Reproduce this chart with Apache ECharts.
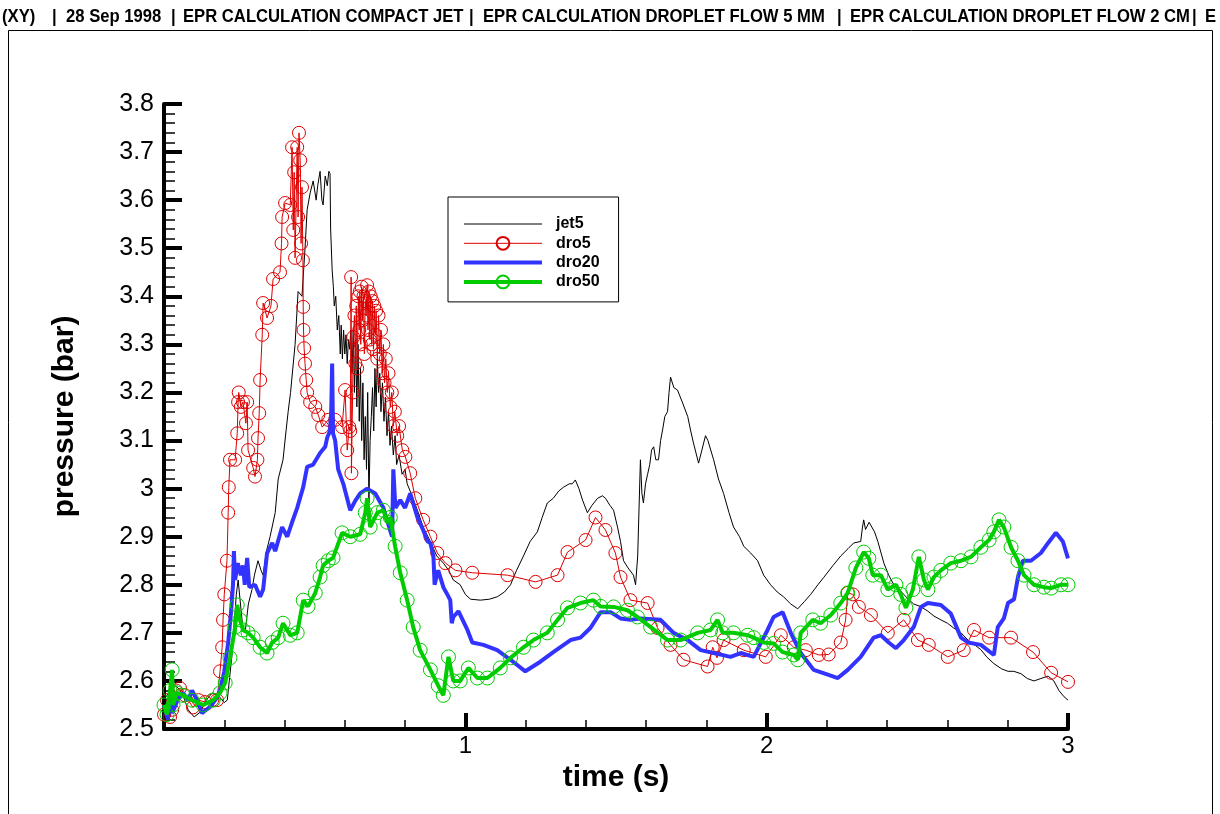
<!DOCTYPE html>
<html>
<head>
<meta charset="utf-8">
<title>EPR calculation – pressure vs time</title>
<script src="https://cdn.jsdelivr.net/npm/echarts@6/dist/echarts.min.js"></script>
<style>
  html, body { margin: 0; padding: 0; background: #ffffff; }
  #chart { width: 1220px; height: 814px; }
</style>
</head>
<body>
<div id="chart"></div>
<script>
// Header line of the plot page, one entry per field
const headerFields = ['(XY)', '|', '28 Sep 1998', '|', 'EPR CALCULATION COMPACT JET', '|',
  'EPR CALCULATION DROPLET FLOW 5 MM', '|', 'EPR CALCULATION DROPLET FLOW 2 CM', '|', 'E'];

const seriesNames = ['jet5', 'dro5', 'dro20', 'dro50'];

// Axis ranges and ticks
const xTicks = [0, 1, 2, 3];
const yMin = 2.5, yMax = 3.8, yStep = 0.1;

// Pressure (bar) against time (s), one [time, pressure] pair per sample
const jet5 = [
  [0.00,2.56],[0.02,2.58],[0.04,2.59],[0.06,2.575],[0.08,2.54],[0.10,2.525],[0.12,2.535],[0.14,2.56],[0.16,2.575],[0.18,2.57],
  [0.20,2.555],[0.21,2.56],[0.225,2.65],[0.24,2.78],[0.246,2.81],[0.26,2.72],[0.269,2.70],[0.28,2.76],[0.292,2.79],[0.30,2.82],
  [0.312,2.85],[0.322,2.83],[0.329,2.82],[0.34,2.87],[0.352,2.90],[0.369,2.95],[0.379,3.02],[0.395,3.06],[0.405,3.12],[0.412,3.16],
  [0.42,3.20],[0.435,3.30],[0.445,3.41],[0.458,3.40],[0.468,3.50],[0.475,3.58],[0.485,3.615],[0.495,3.64],[0.505,3.60],[0.51,3.63],
  [0.518,3.66],[0.524,3.60],[0.528,3.59],[0.535,3.65],[0.542,3.63],[0.547,3.66],[0.551,3.655],[0.553,3.54],[0.558,3.455],[0.562,3.42],
  [0.565,3.38],[0.57,3.40],[0.575,3.33],[0.58,3.36],[0.585,3.28],[0.588,3.34],[0.592,3.27],[0.596,3.33],[0.60,3.28],[0.604,3.32],
  [0.608,3.26],[0.612,3.31],[0.616,3.29],[0.62,3.33],[0.624,3.24],[0.628,3.33],[0.632,3.20],[0.636,3.31],[0.64,3.17],[0.644,3.30],
  [0.648,3.14],[0.652,3.25],[0.656,3.10],[0.66,3.22],[0.664,3.06],[0.668,3.15],[0.672,3.04],[0.676,3.20],[0.68,2.97],[0.684,3.10],
  [0.688,3.15],[0.692,3.21],[0.696,3.12],[0.70,3.25],[0.704,3.17],[0.708,3.27],[0.712,3.20],[0.716,3.24],[0.72,3.16],[0.725,3.22],
  [0.73,3.14],[0.735,3.19],[0.74,3.11],[0.745,3.16],[0.75,3.09],[0.755,3.13],[0.761,3.07],[0.767,3.11],[0.772,3.05],[0.78,3.07],
  [0.79,3.03],[0.80,3.04],[0.807,3.01],[0.82,2.99],[0.841,2.955],[0.86,2.92],[0.884,2.89],[0.905,2.86],[0.927,2.845],[0.945,2.83],
  [0.96,2.81],[0.983,2.80],[1.0,2.78],[1.017,2.77],[1.05,2.768],[1.08,2.77],[1.106,2.775],[1.13,2.785],[1.15,2.80],[1.17,2.83],
  [1.193,2.86],[1.215,2.89],[1.239,2.91],[1.255,2.94],[1.272,2.97],[1.292,2.98],[1.31,2.995],[1.326,3.003],[1.345,3.01],[1.355,3.01],
  [1.365,3.018],[1.377,3.00],[1.389,2.976],[1.405,2.95],[1.42,2.965],[1.439,2.98],[1.455,2.985],[1.465,2.98],[1.48,2.965],[1.492,2.955],
  [1.505,2.92],[1.515,2.89],[1.525,2.85],[1.54,2.835],[1.558,2.82],[1.565,2.80],[1.572,2.86],[1.581,3.06],[1.586,2.99],[1.591,2.97],
  [1.598,3.01],[1.605,3.03],[1.612,3.05],[1.618,3.08],[1.625,3.087],[1.632,3.06],[1.641,3.06],[1.648,3.10],[1.654,3.12],[1.662,3.15],
  [1.671,3.16],[1.676,3.20],[1.681,3.232],[1.692,3.21],[1.704,3.205],[1.72,3.18],[1.738,3.15],[1.748,3.12],[1.757,3.095],[1.774,3.053],
  [1.785,3.08],[1.797,3.11],[1.805,3.10],[1.824,3.06],[1.84,3.02],[1.857,2.99],[1.875,2.95],[1.89,2.92],[1.91,2.90],[1.924,2.88],
  [1.947,2.866],[1.97,2.85],[1.99,2.82],[2.013,2.80],[2.035,2.785],[2.056,2.775],[2.08,2.76],[2.103,2.75],[2.125,2.765],[2.146,2.78],
  [2.17,2.80],[2.189,2.815],[2.22,2.84],[2.246,2.86],[2.27,2.875],[2.289,2.887],[2.312,2.89],[2.318,2.92],[2.322,2.935],[2.328,2.915],
  [2.332,2.92],[2.34,2.93],[2.346,2.93],[2.358,2.91],[2.369,2.89],[2.389,2.845],[2.405,2.82],[2.422,2.80],[2.44,2.79],[2.455,2.78],
  [2.47,2.77],[2.488,2.76],[2.51,2.755],[2.535,2.745],[2.555,2.735],[2.578,2.727],[2.6,2.72],[2.621,2.71],[2.645,2.70],[2.668,2.685],
  [2.69,2.675],[2.711,2.665],[2.73,2.65],[2.754,2.636],[2.78,2.625],[2.801,2.62],[2.82,2.62],[2.844,2.615],[2.865,2.605],[2.887,2.60],
  [2.91,2.605],[2.934,2.61],[2.953,2.60],[2.97,2.58],[2.987,2.567],[3.0,2.56]
];

const dro5 = [
  [0.0,2.53],[0.01,2.56],[0.02,2.525],[0.027,2.54],[0.04,2.58],[0.053,2.585],[0.07,2.57],[0.096,2.545],[0.115,2.56],[0.136,2.556],
  [0.16,2.56],[0.176,2.56],[0.186,2.62],[0.193,2.67],[0.196,2.727],[0.2,2.78],[0.209,2.85],[0.213,2.95],[0.215,3.003],[0.219,3.06],
  [0.236,3.06],[0.243,3.115],[0.246,3.18],[0.248,3.20],[0.255,3.17],[0.262,3.18],[0.272,3.136],[0.276,3.18],[0.279,3.08],[0.296,3.043],
  [0.302,3.025],[0.31,3.06],[0.312,3.105],[0.316,3.157],[0.319,3.226],[0.326,3.32],[0.329,3.386],[0.342,3.355],[0.355,3.38],[0.362,3.436],
  [0.385,3.45],[0.39,3.51],[0.392,3.565],[0.402,3.594],[0.419,3.59],[0.425,3.71],[0.429,3.538],[0.432,3.658],[0.435,3.48],[0.442,3.71],
  [0.445,3.565],[0.448,3.74],[0.452,3.683],[0.455,3.51],[0.458,3.627],[0.461,3.475],[0.462,3.378],[0.463,3.33],[0.465,3.292],[0.468,3.26],
  [0.472,3.226],[0.475,3.20],[0.485,3.18],[0.502,3.17],[0.512,3.153],[0.525,3.128],[0.545,3.143],[0.568,3.143],[0.591,3.128],[0.601,3.205],
  [0.608,3.08],[0.615,3.128],[0.618,3.12],[0.621,3.44],[0.622,3.032],[0.626,3.20],[0.628,3.315],[0.632,3.36],[0.635,3.26],[0.638,3.38],
  [0.641,3.25],[0.645,3.40],[0.648,3.33],[0.65,3.41],[0.653,3.30],[0.656,3.42],[0.659,3.35],[0.662,3.40],[0.665,3.28],[0.668,3.39],
  [0.671,3.36],[0.674,3.423],[0.677,3.33],[0.68,3.41],[0.683,3.31],[0.686,3.40],[0.689,3.30],[0.692,3.39],[0.695,3.29],[0.698,3.38],
  [0.701,3.32],[0.704,3.37],[0.708,3.27],[0.712,3.36],[0.716,3.28],[0.72,3.33],[0.724,3.24],[0.728,3.30],[0.732,3.22],[0.736,3.27],
  [0.741,3.20],[0.745,3.24],[0.751,3.17],[0.756,3.20],[0.761,3.13],[0.766,3.16],[0.774,3.11],[0.78,3.13],[0.791,3.08],[0.801,3.066],
  [0.817,3.032],[0.834,2.98],[0.860,2.935],[0.884,2.90],[0.907,2.866],[0.934,2.845],[0.967,2.83],[1.023,2.825],[1.14,2.82],[1.233,2.806],
  [1.306,2.82],[1.339,2.868],[1.399,2.893],[1.432,2.94],[1.465,2.914],[1.498,2.866],[1.515,2.816],[1.548,2.768],[1.605,2.762],[1.638,2.71],
  [1.681,2.675],[1.724,2.644],[1.804,2.63],[1.821,2.67],[1.835,2.648],[1.857,2.685],[1.924,2.664],[1.997,2.65],[2.047,2.695],[2.09,2.67],
  [2.13,2.664],[2.173,2.654],[2.206,2.655],[2.246,2.68],[2.262,2.727],[2.269,2.783],[2.286,2.78],[2.306,2.754],[2.346,2.737],[2.402,2.70],
  [2.455,2.727],[2.502,2.685],[2.538,2.675],[2.601,2.65],[2.654,2.664],[2.688,2.706],[2.738,2.69],[2.811,2.69],[2.884,2.66],[2.944,2.617],
  [3.0,2.598]
];

const dro20 = [
  [0.0,2.55],[0.013,2.52],[0.02,2.57],[0.027,2.533],[0.045,2.56],[0.063,2.575],[0.08,2.56],[0.093,2.58],[0.11,2.56],[0.126,2.533],
  [0.14,2.54],[0.153,2.546],[0.17,2.56],[0.186,2.58],[0.2,2.62],[0.213,2.68],[0.222,2.74],[0.229,2.80],[0.232,2.87],[0.236,2.81],
  [0.245,2.845],[0.255,2.82],[0.262,2.84],[0.268,2.80],[0.276,2.856],[0.283,2.795],[0.302,2.80],[0.319,2.775],[0.329,2.79],[0.342,2.866],
  [0.359,2.887],[0.369,2.87],[0.392,2.92],[0.409,2.90],[0.425,2.93],[0.442,2.96],[0.462,3.003],[0.475,3.045],[0.495,3.05],[0.518,3.074],
  [0.535,3.087],[0.542,3.107],[0.551,3.12],[0.555,3.163],[0.558,3.26],[0.561,3.115],[0.568,3.10],[0.578,3.04],[0.595,3.01],[0.618,2.955],
  [0.635,2.975],[0.651,2.99],[0.674,3.0],[0.701,2.99],[0.728,2.96],[0.752,2.91],[0.757,2.90],[0.761,3.04],[0.768,2.96],[0.784,2.976],
  [0.80,2.96],[0.817,2.99],[0.841,2.94],[0.860,2.914],[0.875,2.89],[0.884,2.887],[0.894,2.86],[0.898,2.80],[0.91,2.83],[0.927,2.795],
  [0.94,2.78],[0.950,2.768],[0.955,2.72],[0.96,2.733],[0.977,2.745],[1.007,2.706],[1.023,2.68],[1.06,2.675],[1.106,2.664],[1.15,2.644],
  [1.199,2.62],[1.249,2.64],[1.292,2.66],[1.349,2.685],[1.382,2.69],[1.415,2.71],[1.449,2.743],[1.482,2.743],[1.515,2.73],[1.548,2.727],
  [1.581,2.73],[1.648,2.727],[1.691,2.70],[1.738,2.685],[1.781,2.664],[1.824,2.658],[1.88,2.65],[1.914,2.658],[1.957,2.65],[2.003,2.706],
  [2.023,2.733],[2.053,2.743],[2.08,2.70],[2.113,2.658],[2.156,2.623],[2.203,2.613],[2.236,2.606],[2.269,2.623],[2.312,2.65],[2.355,2.69],
  [2.379,2.695],[2.405,2.68],[2.429,2.668],[2.455,2.685],[2.488,2.712],[2.512,2.754],[2.535,2.762],[2.578,2.758],[2.611,2.74],[2.645,2.69],
  [2.668,2.68],[2.711,2.675],[2.754,2.654],[2.767,2.712],[2.787,2.73],[2.801,2.762],[2.821,2.77],[2.834,2.816],[2.85,2.85],[2.877,2.85],
  [2.91,2.866],[2.934,2.887],[2.96,2.908],[2.983,2.89],[3.0,2.855]
];

const dro50 = [
  [0.0,2.55],[0.01,2.53],[0.02,2.58],[0.027,2.623],[0.03,2.55],[0.043,2.575],[0.063,2.57],[0.093,2.56],[0.13,2.55],[0.163,2.56],
  [0.186,2.575],[0.203,2.596],[0.219,2.648],[0.236,2.712],[0.243,2.758],[0.252,2.727],[0.262,2.706],[0.279,2.70],[0.296,2.69],[0.319,2.67],
  [0.342,2.658],[0.359,2.68],[0.379,2.69],[0.395,2.72],[0.419,2.695],[0.442,2.70],[0.462,2.768],[0.478,2.755],[0.502,2.783],[0.518,2.816],
  [0.528,2.84],[0.545,2.85],[0.561,2.856],[0.591,2.908],[0.618,2.90],[0.651,2.905],[0.668,2.95],[0.674,2.98],[0.684,2.92],[0.708,2.95],
  [0.728,2.955],[0.741,2.93],[0.751,2.94],[0.767,2.88],[0.784,2.825],[0.807,2.768],[0.827,2.712],[0.850,2.664],[0.884,2.623],[0.91,2.59],
  [0.927,2.57],[0.944,2.65],[0.96,2.60],[0.983,2.60],[1.01,2.627],[1.04,2.606],[1.073,2.606],[1.116,2.627],[1.15,2.648],[1.193,2.67],
  [1.226,2.685],[1.272,2.70],[1.306,2.727],[1.339,2.752],[1.382,2.762],[1.425,2.768],[1.449,2.755],[1.492,2.754],[1.538,2.747],[1.571,2.733],
  [1.615,2.712],[1.671,2.685],[1.714,2.685],[1.771,2.70],[1.814,2.706],[1.837,2.727],[1.854,2.70],[1.89,2.70],[1.937,2.695],[1.957,2.69],
  [1.99,2.68],[2.023,2.678],[2.053,2.66],[2.09,2.654],[2.103,2.644],[2.113,2.70],[2.153,2.727],[2.179,2.72],[2.213,2.737],[2.246,2.762],
  [2.269,2.783],[2.296,2.835],[2.322,2.868],[2.339,2.855],[2.352,2.82],[2.379,2.82],[2.402,2.79],[2.429,2.80],[2.445,2.78],[2.462,2.752],
  [2.485,2.79],[2.505,2.858],[2.522,2.81],[2.535,2.79],[2.555,2.816],[2.578,2.83],[2.611,2.845],[2.645,2.85],[2.678,2.858],[2.711,2.878],
  [2.738,2.893],[2.754,2.91],[2.771,2.935],[2.787,2.92],[2.811,2.878],[2.834,2.85],[2.854,2.82],[2.887,2.80],[2.92,2.795],[2.944,2.793],
  [2.977,2.80],[3.0,2.80]
];

const chart = echarts.init(document.getElementById('chart'), null, { renderer: 'canvas' });

const labelFont = '"Liberation Sans", Arial, sans-serif';
const RED = '#dd0000', BLUE = '#3333ff', GREEN = '#00cc00', BLACK = '#000000';

function fmtTick(v) {
  return String(Math.round(v * 10) / 10);
}

// Header fields are laid out left to right at fixed column starts
const headerColumns = [2, 52, 66, 171, 183, 469, 483, 837, 850, 1192, 1205];
const headerGraphics = headerFields.map((t, i) => ({
  type: 'text',
  x: headerColumns[i],
  y: 17,
  scaleX: 0.876,
  style: {
    text: t,
    font: 'bold 19px "Liberation Sans", Arial, sans-serif',
    fill: '#000',
    textVerticalAlign: 'middle',
    verticalAlign: 'middle'
  },
  silent: true
}));

// Legend swatches: thin lines for jet5/dro5, thick for dro20/dro50; no marker on jet5/dro20
const legendLine = { jet5: 1, dro5: 1, dro20: 4, dro50: 4 };
const legendData = seriesNames.map(n => {
  const item = { name: n, lineStyle: { width: legendLine[n] } };
  if (n === 'jet5' || n === 'dro20') {
    item.itemStyle = { color: 'rgba(0,0,0,0)', borderWidth: 0 };
  }
  return item;
});

const option = {
  backgroundColor: '#ffffff',
  animation: false,
  grid: { left: 164, right: 152, top: 104, bottom: 85, containLabel: false },
  graphic: [
    {
      type: 'rect',
      shape: { x: 8.5, y: 30.5, width: 1204, height: 800 },
      style: { fill: 'none', stroke: '#000', lineWidth: 1 },
      silent: true
    }
  ].concat(headerGraphics),
  legend: {
    orient: 'vertical',
    left: 448,
    top: 197,
    data: legendData,
    itemWidth: 78,
    itemHeight: 16,
    itemGap: 3.3,
    padding: [19, 19, 12, 14],
    borderColor: '#000',
    borderWidth: 1,
    backgroundColor: '#fff',
    textStyle: {
      fontFamily: labelFont,
      fontWeight: 'bold',
      fontSize: 16,
      color: '#000',
      padding: [0, 0, 0, 9]
    },
    selectedMode: false
  },
  xAxis: {
    type: 'value',
    min: xTicks[0],
    max: xTicks[xTicks.length - 1],
    interval: 1,
    name: 'time (s)',
    nameLocation: 'middle',
    nameGap: 21,
    nameTextStyle: { fontFamily: labelFont, fontWeight: 'bold', fontSize: 30, color: '#000' },
    axisLine: { show: true, onZero: false, lineStyle: { color: '#000', width: 4 } },
    axisTick: { show: true, inside: true, length: 16, lineStyle: { color: '#000', width: 4 } },
    minorTick: { show: true, splitNumber: 5, length: 9, lineStyle: { color: '#000', width: 1.5 } },
    axisLabel: {
      fontFamily: labelFont, fontSize: 24, color: '#000', margin: 5,
      formatter: v => (v === 0 ? '' : fmtTick(v))
    },
    splitLine: { show: false },
    minorSplitLine: { show: false }
  },
  yAxis: {
    type: 'value',
    min: yMin,
    max: yMax,
    interval: yStep,
    name: 'pressure (bar)',
    nameLocation: 'middle',
    nameGap: 84,
    nameTextStyle: { fontFamily: labelFont, fontWeight: 'bold', fontSize: 30, color: '#000' },
    axisLine: { show: true, onZero: false, lineStyle: { color: '#000', width: 4 } },
    axisTick: { show: true, inside: true, length: 18, lineStyle: { color: '#000', width: 4 } },
    minorTick: { show: true, splitNumber: 5, length: 11, lineStyle: { color: '#000', width: 1.5 } },
    axisLabel: {
      fontFamily: labelFont, fontSize: 25, color: '#000', margin: 10,
      formatter: fmtTick
    },
    splitLine: { show: false },
    minorSplitLine: { show: false }
  },
  series: [
    {
      name: 'jet5', type: 'line', data: jet5,
      symbol: 'none',
      lineStyle: { color: BLACK, width: 1 },
      itemStyle: { color: BLACK },
      z: 2
    },
    {
      name: 'dro5', type: 'line', data: dro5,
      symbol: 'circle', symbolSize: 13, showAllSymbol: true,
      lineStyle: { color: RED, width: 1 },
      itemStyle: { color: 'rgba(255,255,255,0)', borderColor: RED, borderWidth: 1 },
      z: 3
    },
    {
      name: 'dro20', type: 'line', data: dro20,
      symbol: 'none',
      lineStyle: { color: BLUE, width: 4 },
      itemStyle: { color: BLUE },
      z: 4
    },
    {
      name: 'dro50', type: 'line', data: dro50,
      symbol: 'circle', symbolSize: 14, showAllSymbol: true,
      lineStyle: { color: GREEN, width: 4 },
      itemStyle: { color: 'rgba(255,255,255,0)', borderColor: GREEN, borderWidth: 1 },
      z: 5
    }
  ]
};

chart.setOption(option);
</script>
</body>
</html>
